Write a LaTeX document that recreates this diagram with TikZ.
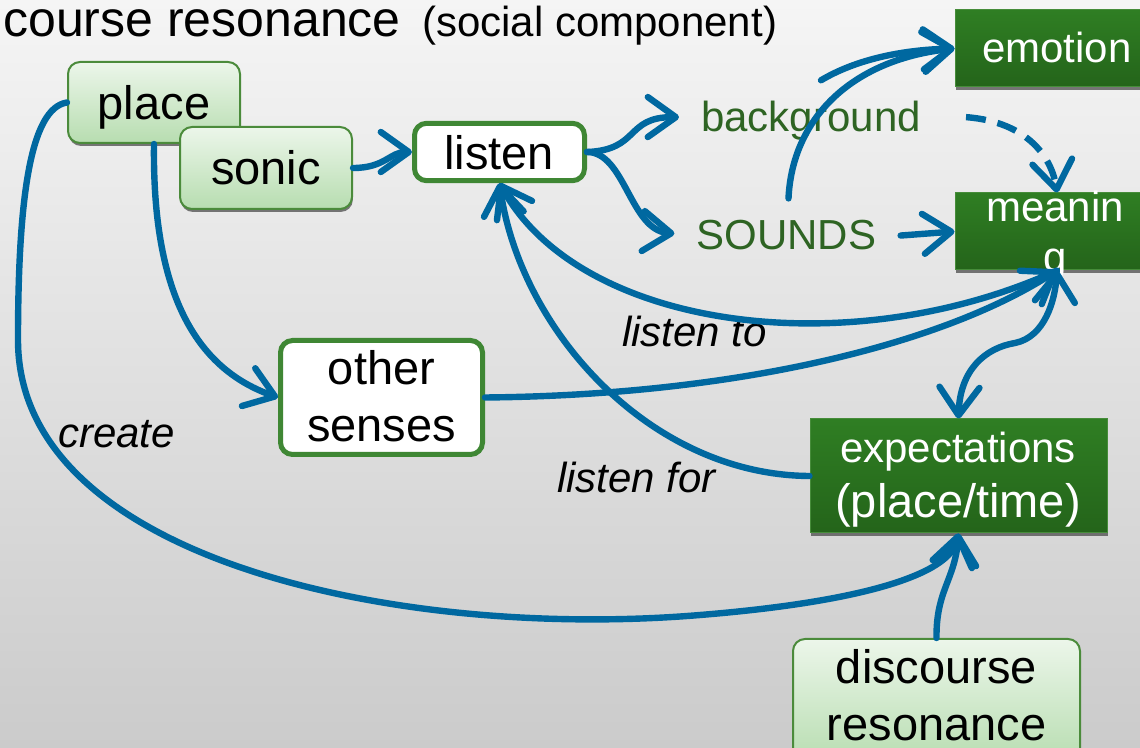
\documentclass[tikz,border=0pt]{standalone}
\usepackage{fontspec}
\setmainfont{Liberation Sans}
\usetikzlibrary{arrows.meta,shadows,calc}

\definecolor{flow}{RGB}{0,104,160}
\definecolor{boxline}{RGB}{75,139,59}
\definecolor{litetop}{RGB}{236,246,234}
\definecolor{litebot}{RGB}{183,221,176}
\definecolor{darktop}{RGB}{47,126,35}
\definecolor{darkbot}{RGB}{36,100,26}
\definecolor{darkedge}{RGB}{70,140,58}
\definecolor{frameline}{RGB}{63,135,52}
\definecolor{termgreen}{RGB}{46,100,35}
\definecolor{bgtop}{RGB}{245,245,245}
\definecolor{bgbot}{RGB}{203,203,203}

\newcommand\fsTitle{\fontsize{37.5pt}{45pt}\selectfont}
\newcommand\fsSub{\fontsize{31.5pt}{38pt}\selectfont}
\newcommand\fsBox{\fontsize{35.25pt}{42pt}\selectfont}
\newcommand\fsMid{\fontsize{31.5pt}{38pt}\selectfont}

\tikzset{
  boxshadow/.style={drop shadow={shadow xshift=0.6pt,shadow yshift=-2.2pt,fill=black!70,opacity=0.75}},
  litebox/.style={rectangle,rounded corners=9pt,draw=boxline,line width=1.5pt,
    top color=litetop,bottom color=litebot,boxshadow,inner sep=0pt},
  framebox/.style={rectangle,rounded corners=9pt,draw=frameline,line width=3.75pt,
    fill=white,inner sep=0pt},
  darkbox/.style={rectangle,draw=darkedge,line width=0.75pt,
    top color=darktop,bottom color=darkbot,boxshadow,inner sep=0pt},
  boxtext/.style={inner sep=0pt,anchor=base,font=\fsBox,text=black},
  darktext/.style={inner sep=0pt,anchor=base,font=\fsMid,text=white},
  term/.style={inner sep=0pt,anchor=base,font=\fsMid,text=termgreen},
  edgelabel/.style={inner sep=0pt,anchor=base west,font=\fsMid\itshape,text=black},
  conn/.style={draw=flow,line width=4.8pt,line cap=round,line join=round},
  barb/.tip={Straight Barb[length=21pt,width=30pt,round]},
}

\begin{document}
\begin{tikzpicture}[x=0.75pt,y=-0.75pt]
  % page area and soft grey backdrop
  \useasboundingbox (0,0) rectangle (1140,748);
  \shade[top color=bgtop,bottom color=bgbot] (0,0) rectangle (1140,748);

  % heading
  \node[inner sep=0pt,anchor=base east,font=\fsTitle] (title) at (401,37) {course resonance};
  \node[inner sep=0pt,anchor=base west,font=\fsSub] (subtitle) at (422,37) {(social component)};

  % boxes
  \node[litebox,minimum width=129pt,minimum height=60.75pt] (place) at (154,102.5) {};
  \node[litebox,minimum width=129pt,minimum height=61.5pt] (sonic) at (266,168) {};
  \node[framebox,minimum width=127.5pt,minimum height=43pt] (listen) at (499.5,152) {};
  \node[framebox,minimum width=151.5pt,minimum height=85.5pt] (other) at (381.5,397.5) {};
  \node[darkbox,minimum width=153pt,minimum height=57.75pt] (emotion) at (1057,48.5) {};
  \node[darkbox,minimum width=153pt,minimum height=57.75pt] (meaning) at (1057,231.5) {};
  \node[darkbox,minimum width=222.75pt,minimum height=85.5pt] (expect) at (958.5,476) {};
  \node[litebox,minimum width=215.25pt,minimum height=93.75pt] (disc) at (936.5,701.5) {};

  % box texts
  \node[boxtext] (placeT) at (154,120) {place};
  \node[boxtext] (sonicT) at (266,185) {sonic};
  \node[boxtext] (listenT) at (499,170) {listen};
  \node[boxtext] (otherT1) at (381.5,385) {other};
  \node[boxtext] (otherT2) at (381.5,442) {senses};
  \node[darktext] (emotionT) at (1057,63) {emotion};
  \node[darktext] (meaningT1) at (1055,222) {meanin};
  \node[darktext] (meaningT2) at (1055,272) {g};
  \node[darktext] (expectT1) at (958,463) {expectations};
  \node[darktext,font=\fsBox] (expectT2) at (958,518) {(place/time)};
  \node[boxtext] (discT1) at (936.5,683) {discourse};
  \node[boxtext] (discT2) at (936.5,740) {resonance};

  % free-standing terms
  \node[term] (bg) at (811,132) {background};
  \node[term] (sounds) at (786.5,250) {SOUNDS};

  % edge labels
  \node[edgelabel] (createL) at (58,448) {create};
  \node[edgelabel] (listentoL) at (622,347) {listen to};
  \node[edgelabel] (listenforL) at (557,493) {listen for};

  % connectors
  \draw[conn,-barb] (place.west) .. controls (30,108) and (18,200) .. (18,340)
    .. controls (18,560) and (400,640) .. (700,615)
    .. controls (860,602) and (950,575) .. (expect.south);
  \draw[conn,-barb] (place.south) .. controls (152,300) and (200,370) .. (other.west);
  \draw[conn,-barb] (sonic.east) .. controls (385,168) and (390,152) .. (listen.west);
  \draw[conn,-barb] (listen.east) .. controls (640,150) and (625,117) .. ($(bg.west)+(-22,-4)$);
  \draw[conn,-barb] (listen.east) .. controls (625,152) and (630,230) .. ($(sounds.west)+(-22,-2)$);
  \draw[conn,-barb] ($(sounds.east)+(24,0)$) -- (meaning.west);
  \draw[conn,-barb] ($(sounds.north)+(2,-22)$) .. controls (792,120) and (850,60) .. (emotion.west);
  \draw[conn,-barb] ($(bg.north)+(10,-21)$) .. controls (855,60) and (900,50) .. (emotion.west);
  \draw[conn,-barb,line cap=butt,dash pattern=on 15pt off 9pt]
    ($(bg.east)+(45,-4)$) .. controls (1030,122) and (1052,160) .. (meaning.north);
  \draw[conn,barb-] (listen.south) .. controls (580,330) and (850,365) .. (meaning.south);
  \draw[conn,barb-] (listen.south) .. controls (520,330) and (650,475) .. (expect.west);
  \draw[conn,-barb] (other.east) .. controls (750,395) and (950,340) .. (meaning.south);
  \draw[conn,barb-barb] (expect.north) .. controls (960,370) and (985,348) .. (1015,343)
    .. controls (1045,337) and (1055,300) .. (meaning.south);
  \draw[conn,-barb] (disc.north) .. controls (936,590) and (955,580) .. (expect.south);
\end{tikzpicture}
\end{document}
